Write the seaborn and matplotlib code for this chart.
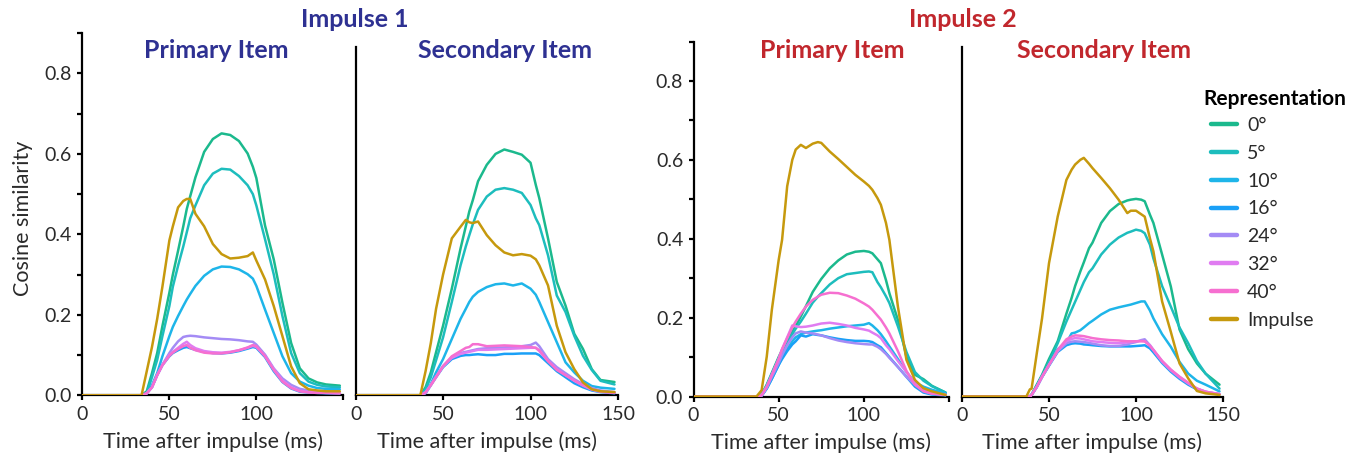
import matplotlib
matplotlib.use("Agg")
import matplotlib.pyplot as plt
import numpy as np
import pandas as pd
import seaborn as sns

# ---------------- data ----------------
REPS = ["0°", "5°", "10°", "16°", "24°", "32°", "40°", "Impulse"]
COLORS = ["#1bb98d", "#1dbdbd", "#1eb5e9", "#1aa0f7", "#a48bf5", "#e07cf1", "#f66fd0", "#c6990d"]

# Impulse 1 - Primary Item
T1 = [0, 34, 37, 40, 43, 46, 50, 52, 55, 58, 60, 62, 65, 70, 75, 80, 85, 90, 95, 98,
      100, 105, 110, 115, 120, 125, 130, 135, 140, 148]
P1_0 = [0, 0, 0.01, 0.055, 0.105, 0.172, 0.255, 0.30, 0.359, 0.42, 0.463, 0.495, 0.542, 0.605, 0.637, 0.651, 0.647, 0.632, 0.601, 0.568,
        0.540, 0.422, 0.338, 0.230, 0.130, 0.067, 0.042, 0.032, 0.027, 0.024]
P1_5 = [0, 0, 0.005, 0.045, 0.088, 0.147, 0.222, 0.27, 0.322, 0.37, 0.405, 0.44, 0.472, 0.522, 0.551, 0.563, 0.561, 0.545, 0.522, 0.50,
        0.472, 0.388, 0.301, 0.197, 0.105, 0.055, 0.034, 0.026, 0.022, 0.020]
P1_10 = [0, 0, 0.005, 0.025, 0.055, 0.097, 0.147, 0.17, 0.197, 0.222, 0.238, 0.252, 0.272, 0.297, 0.313, 0.320, 0.319, 0.313, 0.301, 0.29,
         0.272, 0.213, 0.155, 0.097, 0.055, 0.034, 0.024, 0.018, 0.016, 0.015]
P1_16 = [0, 0, 0.005, 0.02, 0.05, 0.075, 0.097, 0.105, 0.112, 0.118, 0.120, 0.117, 0.113, 0.108, 0.105, 0.104, 0.106, 0.110, 0.116, 0.120,
         0.118, 0.095, 0.060, 0.033, 0.017, 0.009, 0.007, 0.006, 0.005, 0.005]
P1_24 = [0, 0, 0.005, 0.02, 0.051, 0.076, 0.105, 0.118, 0.134, 0.145, 0.147, 0.148, 0.147, 0.144, 0.142, 0.140, 0.139, 0.137, 0.134, 0.133,
         0.126, 0.101, 0.067, 0.042, 0.026, 0.016, 0.012, 0.010, 0.009, 0.008]
P1_32 = [0, 0, 0.005, 0.02, 0.05, 0.075, 0.10, 0.108, 0.118, 0.128, 0.133, 0.125, 0.117, 0.110, 0.107, 0.106, 0.108, 0.112, 0.118, 0.123,
         0.120, 0.098, 0.065, 0.037, 0.020, 0.011, 0.008, 0.007, 0.006, 0.005]
P1_40 = [0, 0, 0.005, 0.02, 0.05, 0.075, 0.098, 0.106, 0.115, 0.122, 0.125, 0.118, 0.112, 0.106, 0.104, 0.104, 0.107, 0.112, 0.119, 0.125,
         0.122, 0.097, 0.063, 0.034, 0.018, 0.010, 0.007, 0.006, 0.006, 0.005]
P1_IMP = [0, 0, 0.06, 0.12, 0.19, 0.27, 0.385, 0.42, 0.467, 0.483, 0.488, 0.488, 0.451, 0.42, 0.376, 0.351, 0.340, 0.342, 0.346, 0.355,
          0.335, 0.288, 0.222, 0.147, 0.072, 0.030, 0.015, 0.012, 0.010, 0.010]

# Impulse 1 - Secondary Item
T2 = [0, 37, 40, 43, 46, 50, 55, 60, 63, 65, 67, 70, 75, 80, 85, 90, 95, 100, 103, 105,
      110, 115, 120, 125, 130, 135, 140, 148]
P2_0 = [0, 0, 0.02, 0.057, 0.107, 0.173, 0.265, 0.365, 0.42, 0.457, 0.485, 0.532, 0.573, 0.600, 0.611, 0.605, 0.598, 0.578, 0.523, 0.49,
        0.39, 0.282, 0.223, 0.153, 0.115, 0.065, 0.038, 0.033]
P2_5 = [0, 0, 0.015, 0.045, 0.087, 0.144, 0.232, 0.323, 0.37, 0.398, 0.425, 0.461, 0.494, 0.511, 0.515, 0.511, 0.503, 0.473, 0.44, 0.423,
        0.348, 0.248, 0.207, 0.148, 0.098, 0.063, 0.036, 0.027]
P2_10 = [0, 0, 0.01, 0.028, 0.057, 0.09, 0.14, 0.19, 0.215, 0.232, 0.245, 0.257, 0.269, 0.276, 0.278, 0.273, 0.278, 0.265, 0.25, 0.232,
         0.182, 0.132, 0.082, 0.057, 0.036, 0.023, 0.019, 0.016]
P2_16 = [0, 0, 0.005, 0.025, 0.045, 0.07, 0.09, 0.098, 0.1, 0.1, 0.101, 0.102, 0.1, 0.1, 0.103, 0.103, 0.104, 0.104, 0.104, 0.1,
         0.08, 0.06, 0.045, 0.03, 0.02, 0.012, 0.008, 0.005]
P2_24 = [0, 0, 0.006, 0.026, 0.047, 0.073, 0.095, 0.105, 0.108, 0.11, 0.112, 0.115, 0.117, 0.118, 0.119, 0.12, 0.122, 0.125, 0.131, 0.122,
         0.09, 0.07, 0.055, 0.04, 0.028, 0.018, 0.012, 0.008]
P2_32 = [0, 0, 0.006, 0.026, 0.046, 0.072, 0.093, 0.103, 0.106, 0.108, 0.11, 0.113, 0.113, 0.114, 0.115, 0.116, 0.117, 0.118, 0.118, 0.11,
         0.085, 0.065, 0.05, 0.036, 0.024, 0.014, 0.009, 0.006]
P2_40 = [0, 0, 0.008, 0.025, 0.045, 0.072, 0.097, 0.110, 0.118, 0.12, 0.127, 0.127, 0.122, 0.123, 0.124, 0.123, 0.122, 0.12, 0.118, 0.112,
         0.085, 0.063, 0.05, 0.037, 0.025, 0.015, 0.009, 0.006]
P2_IMP = [0, 0, 0.06, 0.13, 0.215, 0.3, 0.39, 0.419, 0.436, 0.43, 0.428, 0.432, 0.398, 0.373, 0.355, 0.348, 0.351, 0.347, 0.338, 0.323,
          0.273, 0.173, 0.107, 0.065, 0.032, 0.015, 0.010, 0.008]

# Impulse 2 - Primary Item
T3 = [0, 37, 40, 43, 46, 50, 52, 55, 58, 60, 63, 66, 70, 73, 75, 80, 85, 90, 95, 100,
      103, 105, 108, 110, 113, 115, 120, 125, 130, 135, 140, 148]
P3_0 = [0, 0, 0.005, 0.03, 0.06, 0.1, 0.118, 0.143, 0.165, 0.178, 0.203, 0.229, 0.265, 0.285, 0.298, 0.325, 0.345, 0.36, 0.367, 0.369,
        0.367, 0.363, 0.348, 0.338, 0.295, 0.262, 0.194, 0.101, 0.055, 0.044, 0.027, 0.01]
P3_5 = [0, 0, 0.005, 0.028, 0.057, 0.097, 0.113, 0.138, 0.158, 0.172, 0.19, 0.21, 0.238, 0.253, 0.262, 0.284, 0.300, 0.310, 0.313, 0.316,
        0.317, 0.315, 0.29, 0.277, 0.254, 0.237, 0.178, 0.113, 0.062, 0.04, 0.026, 0.01]
P3_10 = [0, 0, 0.002, 0.02, 0.045, 0.08, 0.1, 0.12, 0.14, 0.15, 0.158, 0.162, 0.165, 0.167, 0.168, 0.172, 0.175, 0.178, 0.18, 0.182,
         0.186, 0.18, 0.168, 0.158, 0.14, 0.127, 0.095, 0.062, 0.036, 0.025, 0.017, 0.008]
P3_16 = [0, 0, 0.002, 0.02, 0.045, 0.08, 0.095, 0.115, 0.132, 0.14, 0.155, 0.152, 0.158, 0.156, 0.155, 0.15, 0.146, 0.143, 0.141, 0.141,
         0.14, 0.138, 0.13, 0.125, 0.11, 0.1, 0.075, 0.05, 0.025, 0.01, 0.005, 0.003]
P3_24 = [0, 0, 0.002, 0.022, 0.05, 0.085, 0.105, 0.13, 0.15, 0.16, 0.165, 0.162, 0.16, 0.157, 0.155, 0.148, 0.142, 0.138, 0.135, 0.133,
         0.132, 0.132, 0.126, 0.12, 0.108, 0.098, 0.075, 0.05, 0.03, 0.015, 0.008, 0.004]
P3_32 = [0, 0, 0.003, 0.025, 0.055, 0.095, 0.12, 0.15, 0.18, 0.178, 0.176, 0.177, 0.18, 0.183, 0.185, 0.187, 0.184, 0.18, 0.174, 0.17,
         0.167, 0.162, 0.155, 0.148, 0.13, 0.12, 0.09, 0.062, 0.033, 0.015, 0.008, 0.004]
P3_40 = [0, 0, 0.003, 0.025, 0.055, 0.095, 0.12, 0.148, 0.175, 0.19, 0.21, 0.228, 0.245, 0.253, 0.258, 0.263, 0.262, 0.256, 0.248, 0.236,
         0.228, 0.22, 0.205, 0.195, 0.175, 0.16, 0.115, 0.065, 0.03, 0.013, 0.007, 0.004]
P3_IMP = [0, 0, 0.016, 0.101, 0.220, 0.346, 0.397, 0.533, 0.600, 0.626, 0.638, 0.630, 0.641, 0.645, 0.643, 0.621, 0.602, 0.582, 0.562, 0.545,
          0.534, 0.524, 0.503, 0.486, 0.440, 0.397, 0.228, 0.093, 0.042, 0.021, 0.013, 0.004]

# Impulse 2 - Secondary Item
T4 = [0, 37, 39, 40, 43, 46, 50, 55, 60, 63, 65, 68, 70, 73, 75, 80, 85, 90, 95, 97,
      100, 103, 105, 108, 110, 115, 120, 125, 130, 135, 140, 148]
P4_0 = [0, 0, 0, 0.005, 0.03, 0.055, 0.095, 0.14, 0.21, 0.25, 0.28, 0.317, 0.34, 0.376, 0.39, 0.44, 0.47, 0.488, 0.497, 0.499,
        0.501, 0.499, 0.495, 0.461, 0.44, 0.36, 0.279, 0.17, 0.12, 0.084, 0.058, 0.03]
P4_5 = [0, 0, 0, 0.005, 0.028, 0.052, 0.088, 0.135, 0.19, 0.22, 0.24, 0.27, 0.29, 0.315, 0.325, 0.36, 0.385, 0.403, 0.415, 0.418,
        0.423, 0.42, 0.414, 0.385, 0.35, 0.28, 0.228, 0.175, 0.135, 0.09, 0.058, 0.02]
P4_10 = [0, 0, 0, 0.004, 0.025, 0.05, 0.08, 0.12, 0.136, 0.16, 0.162, 0.168, 0.175, 0.186, 0.192, 0.208, 0.22, 0.226, 0.231, 0.233,
         0.237, 0.241, 0.241, 0.218, 0.198, 0.158, 0.126, 0.088, 0.058, 0.04, 0.03, 0.013]
P4_16 = [0, 0, 0, 0.004, 0.024, 0.049, 0.078, 0.113, 0.13, 0.134, 0.135, 0.134, 0.132, 0.131, 0.13, 0.128, 0.127, 0.127, 0.127, 0.127,
         0.128, 0.129, 0.13, 0.122, 0.112, 0.085, 0.063, 0.045, 0.03, 0.018, 0.01, 0.005]
P4_24 = [0, 0, 0, 0.004, 0.024, 0.05, 0.08, 0.115, 0.135, 0.139, 0.14, 0.139, 0.138, 0.136, 0.134, 0.13, 0.128, 0.128, 0.132, 0.135,
         0.138, 0.143, 0.145, 0.13, 0.118, 0.088, 0.066, 0.048, 0.033, 0.02, 0.012, 0.006]
P4_32 = [0, 0, 0, 0.004, 0.025, 0.05, 0.08, 0.116, 0.14, 0.146, 0.148, 0.147, 0.145, 0.142, 0.14, 0.138, 0.136, 0.135, 0.137, 0.138,
         0.14, 0.141, 0.14, 0.13, 0.118, 0.09, 0.068, 0.05, 0.034, 0.02, 0.012, 0.006]
P4_40 = [0, 0, 0, 0.004, 0.025, 0.05, 0.08, 0.118, 0.145, 0.152, 0.155, 0.154, 0.153, 0.15, 0.148, 0.145, 0.143, 0.142, 0.14, 0.14,
         0.14, 0.14, 0.14, 0.128, 0.118, 0.09, 0.068, 0.05, 0.035, 0.02, 0.012, 0.006]
P4_IMP = [0, 0, 0.018, 0.02, 0.11, 0.198, 0.338, 0.456, 0.549, 0.575, 0.588, 0.600, 0.605, 0.590, 0.579, 0.554, 0.528, 0.499, 0.465, 0.471,
          0.471, 0.462, 0.456, 0.401, 0.368, 0.241, 0.164, 0.084, 0.046, 0.014, 0.008, 0.004]

IMPULSE_TITLES = ["Impulse 1", "Impulse 2"]
ITEM_TITLES = ["Primary Item", "Secondary Item"]
X_TICKS = [0, 50, 100, 150]
X_LABEL = "Time after impulse (ms)"
Y_LABEL = "Cosine similarity"
LEGEND_TITLE = "Representation"

PANELS = [
    (T1, [P1_0, P1_5, P1_10, P1_16, P1_24, P1_32, P1_40, P1_IMP]),
    (T2, [P2_0, P2_5, P2_10, P2_16, P2_24, P2_32, P2_40, P2_IMP]),
    (T3, [P3_0, P3_5, P3_10, P3_16, P3_24, P3_32, P3_40, P3_IMP]),
    (T4, [P4_0, P4_5, P4_10, P4_16, P4_24, P4_32, P4_40, P4_IMP]),
]

# ---------------- style ----------------
sns.set_theme(style="white")
plt.rcParams["font.family"] = ["Lato", "DejaVu Sans"]

NAVY = "#2e3192"
CRIMSON = "#c1272d"
TXT = "#2a2a2a"

W, H = 1361, 459
fig = plt.figure(figsize=(W / 100, H / 100), dpi=100)


def px_axes(x0, x1, y_top, y_bot):
    return fig.add_axes([x0 / W, 1 - y_bot / H, (x1 - x0) / W, (y_bot - y_top) / H])


# (x0, x1, y at 0.9, y at 0.0) in pixels
GEOM = [(82.4, 343.3, 33.2, 395.3),
        (355.6, 618.0, 33.2, 395.3),
        (693.5, 949.0, 41.5, 396.5),
        (962.0, 1223.0, 41.5, 396.5)]
SPINE_TOP = [0.9, 0.866, 0.9, 0.887]

axes = []
for i, ((t, series), g) in enumerate(zip(PANELS, GEOM)):
    ax = px_axes(*g)
    axes.append(ax)
    rows = []
    for rep, vals in zip(REPS, series):
        for tt, vv in zip(t, vals):
            rows.append((tt, vv, rep))
    df = pd.DataFrame(rows, columns=["time", "value", "rep"])
    sns.lineplot(data=df, x="time", y="value", hue="rep", hue_order=REPS,
                 palette=COLORS, linewidth=1.8, estimator=None, errorbar=None,
                 ax=ax, legend=(i == 3), zorder=3)
    ax.set_xlim(0, 150)
    ax.set_ylim(0, 0.9)
    for s in ["top", "right"]:
        ax.spines[s].set_visible(False)
    for s in ["left", "bottom"]:
        ax.spines[s].set_linewidth(1.6)
        ax.spines[s].set_color("black")
    ax.spines["left"].set_bounds(0, SPINE_TOP[i])
    ax.set_xticks(X_TICKS)
    if i in (0, 2):
        ax.set_xticklabels([str(v) for v in X_TICKS[:-1]] + [""])
        yt = np.round(np.arange(0, 0.91, 0.1), 1)
        ax.set_yticks(yt)
        ax.set_yticklabels([f"{v:.1f}" if round(v * 10) % 2 == 0 else "" for v in yt])
        ax.tick_params(axis="y", left=True, direction="out", length=3.4, width=1.6,
                       color="black", labelsize=14, pad=4, labelcolor=TXT)
    else:
        ax.set_xticklabels([str(v) for v in X_TICKS])
        ax.set_yticks([])
        ax.tick_params(axis="y", left=False)
    ax.tick_params(axis="x", bottom=True, direction="out", length=3.4, width=1.6,
                   color="black", labelsize=14, pad=4, labelcolor=TXT)
    ax.set_xlabel(X_LABEL, fontsize=15.5, labelpad=6, color=TXT)
    ax.set_ylabel("")
    ax.set_facecolor("white")

axes[0].set_ylabel(Y_LABEL, fontsize=15.5, color=TXT)
axes[0].yaxis.set_label_coords((33 - 82.4) / (343.3 - 82.4), (395.3 - 218) / (395.3 - 33.2))

# legend
handles, labels = axes[3].get_legend_handles_labels()
if axes[3].get_legend() is not None:
    axes[3].get_legend().remove()
leg = fig.legend(handles, labels, loc="upper left", bbox_to_anchor=(1211 / W, 1 - 117 / H),
                 frameon=False, fontsize=14, handlelength=1.35, handletextpad=0.5,
                 labelspacing=0.555, borderpad=0, borderaxespad=0)
for ln in leg.get_lines():
    ln.set_linewidth(3.2)
for txt in leg.get_texts():
    txt.set_color(TXT)
fig.text(1203 / W, 1 - 105 / H, LEGEND_TITLE, fontsize=15, fontweight="bold",
         ha="left", va="baseline", color="black")

# titles
fig.text(355 / W, 1 - 27 / H, IMPULSE_TITLES[0], color=NAVY, fontsize=18, fontweight="bold",
         ha="center", va="baseline")
fig.text(963 / W, 1 - 27 / H, IMPULSE_TITLES[1], color=CRIMSON, fontsize=18, fontweight="bold",
         ha="center", va="baseline")
for xc, title, col in [(216.7, ITEM_TITLES[0], NAVY), (505, ITEM_TITLES[1], NAVY),
                       (832, ITEM_TITLES[0], CRIMSON), (1104, ITEM_TITLES[1], CRIMSON)]:
    fig.text(xc / W, 1 - 58 / H, title, color=col, fontsize=18, fontweight="bold",
             ha="center", va="baseline")

fig.savefig("out.png", dpi=100, facecolor="white")
